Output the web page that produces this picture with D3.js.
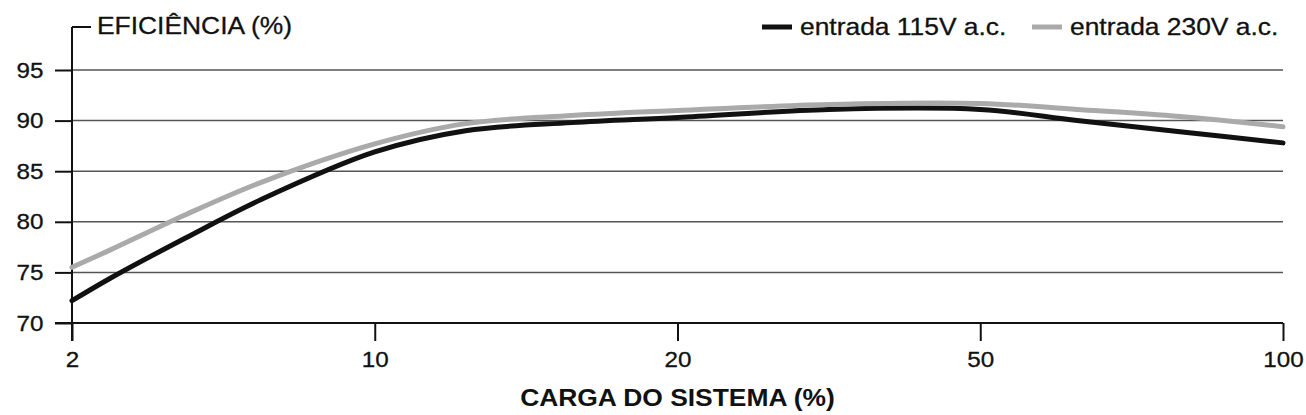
<!DOCTYPE html>
<html>
<head>
<meta charset="utf-8">
<script src="https://cdn.jsdelivr.net/npm/d3@7"></script>
<style>
  body { margin: 0; background: #fff; }
  svg { display: block; font-family: "Liberation Sans", Arial, Helvetica, sans-serif; }
  .grid line { stroke: #555; stroke-width: 1.5; }
  .axis line, .axis path { stroke: #111; stroke-width: 2; }
  .axis text { font-size: 22px; fill: #111; stroke: #111; stroke-width: 0.3; }
</style>
</head>
<body>
<div id="d3_chart"></div>
<script>
const load_ticks = [2, 10, 20, 50, 100]
const eff_ticks = [70, 75, 80, 85, 90, 95]
const load = [2, 3, 5, 7, 10, 13, 16.5, 20, 35, 50, 66, 83, 100]
const eff_115 = [72.2, 74.4, 78.4, 82.2, 86.9, 89.0, 89.8, 90.3, 91.1, 91.1, 90.0, 88.9, 87.8]
const eff_230 = [75.5, 77.2, 80.7, 83.9, 87.7, 89.7, 90.5, 91.0, 91.6, 91.7, 91.1, 90.4, 89.4]
const series_names = ['entrada 115V a.c.', 'entrada 230V a.c.']
const series_colors = ['#111', '#aaa']

const width = 1306, height = 415
const left = 72, right = 1283
const stretch = 'scale(1.1,1)'

// ticks are equally spaced, so the x scale is piecewise linear
const step = (right - left) / (load_ticks.length - 1)
const x = d3.scaleLinear().domain(load_ticks).range(load_ticks.map((d, i) => left + i * step))
const y = d3.scaleLinear().domain([70, 95]).range([323, 70])

const svg = d3.select('#d3_chart').append('svg')
	.attr('width', width)
	.attr('height', height)

// gridlines
svg.append('g').attr('class', 'grid')
	.selectAll('line')
	.data(eff_ticks.slice(1))
	.enter().append('line')
	.attr('x1', left).attr('x2', right)
	.attr('y1', d => y(d)).attr('y2', d => y(d))

// y axis
const y_axis = d3.axisLeft(y).tickValues(eff_ticks).tickSize(17).tickPadding(9)
const gy = svg.append('g').attr('class', 'axis y')
	.attr('transform', 'translate(' + left + ',0)')
	.call(y_axis)
gy.select('.domain').remove()
gy.selectAll('text').attr('transform', stretch)
gy.append('line')
	.attr('x1', 0).attr('x2', 0)
	.attr('y1', y(95) - 43).attr('y2', y(70) + 18)
gy.append('line')
	.attr('x1', 0).attr('x2', 19)
	.attr('y1', y(95) - 43).attr('y2', y(95) - 43)

// x axis
const x_axis = d3.axisBottom(x).tickValues(load_ticks).tickFormat(d3.format('d')).tickSize(18).tickPadding(10)
const gx = svg.append('g').attr('class', 'axis x')
	.attr('transform', 'translate(0,' + y(70) + ')')
	.call(x_axis)
gx.select('.domain').attr('d', 'M' + (left - 17) + ',0H' + right)
gx.selectAll('text').attr('transform', stretch)

// titles
svg.append('text')
	.attr('transform', 'translate(97,34) ' + stretch)
	.style('font-size', '24px')
	.style('fill', '#111')
	.style('stroke', '#111').style('stroke-width', 0.3)
	.text('EFICIÊNCIA (%)')
svg.append('text')
	.attr('transform', 'translate(' + x(20) + ',406) ' + stretch)
	.attr('text-anchor', 'middle')
	.style('font-size', '24px')
	.style('font-weight', 'bold')
	.style('fill', '#111')
	.text('CARGA DO SISTEMA (%)')

// lines
const line = d3.line()
	.x(d => x(d[0]))
	.y(d => y(d[1]))
	.curve(d3.curveCatmullRom.alpha(0.5))
const all_series = [eff_115, eff_230]
svg.selectAll('.series')
	.data(all_series)
	.enter().append('path')
	.attr('class', 'series')
	.attr('d', vals => line(load.map((l, i) => [l, vals[i]])))
	.attr('fill', 'none')
	.attr('stroke', (d, i) => series_colors[i])
	.attr('stroke-width', 5)
	.attr('stroke-linecap', 'round')
	.attr('stroke-linejoin', 'round')

// legend
const legend_x = [762, 1032]
const leg = svg.selectAll('.legend')
	.data(series_names)
	.enter().append('g')
	.attr('class', 'legend')
	.attr('transform', (d, i) => 'translate(' + legend_x[i] + ',27)')
leg.append('line')
	.attr('x1', 0).attr('x2', 30)
	.attr('stroke', (d, i) => series_colors[i])
	.attr('stroke-width', 5)
leg.append('text')
	.attr('transform', 'translate(38,8) ' + stretch)
	.style('font-size', '24px')
	.style('fill', '#111')
	.style('stroke', '#111').style('stroke-width', 0.3)
	.text(d => d)
</script>
</body>
</html>
